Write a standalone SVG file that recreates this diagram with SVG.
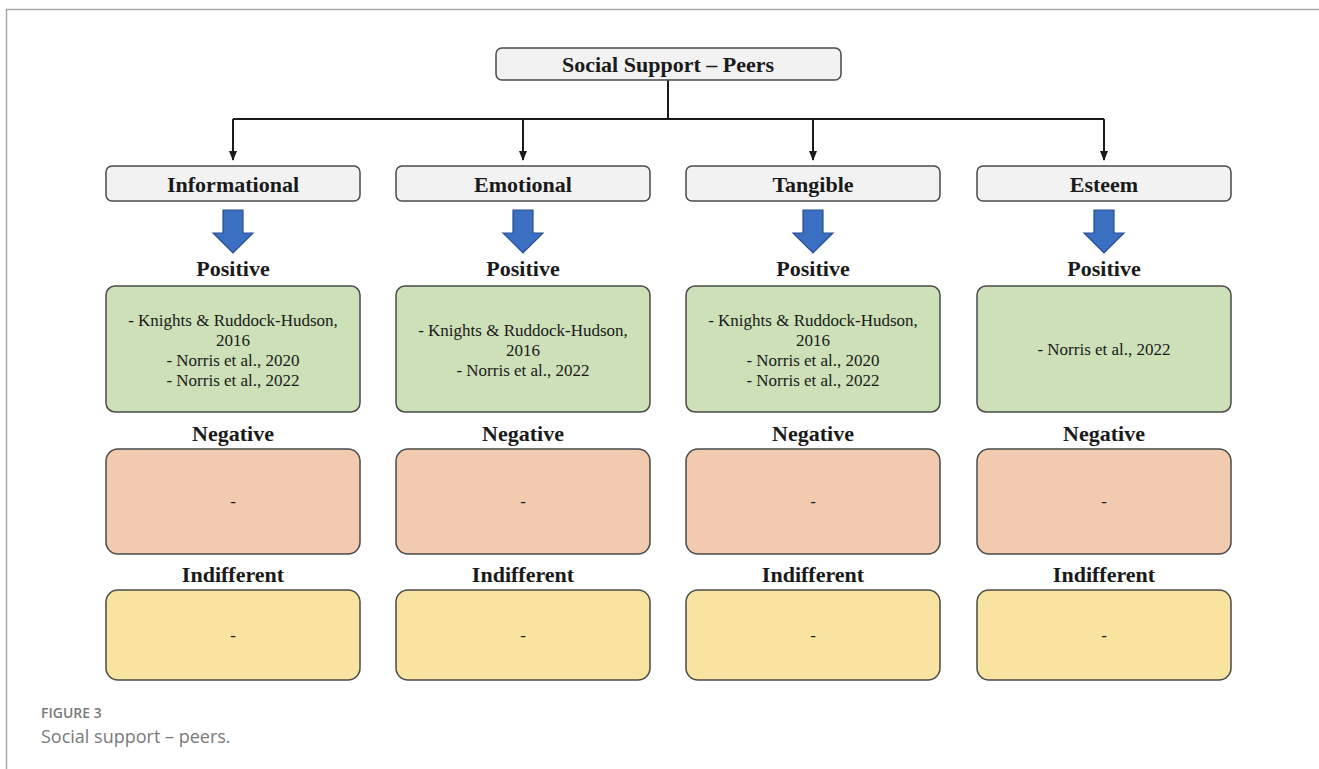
<svg xmlns="http://www.w3.org/2000/svg" width="1319" height="769" viewBox="0 0 1319 769">
  <defs>
    <style>
      .hdr { fill: #f2f2f2; stroke: #4a4a4a; stroke-width: 1.5; }
      .pos { fill: #cde0b8; stroke: #4a4a4a; stroke-width: 1.5; }
      .neg { fill: #f1cab0; stroke: #4a4a4a; stroke-width: 1.5; }
      .ind { fill: #f9e3a0; stroke: #4a4a4a; stroke-width: 1.5; }
      .bold { font-family: "Liberation Serif", "Times New Roman", serif; font-weight: bold; font-size: 22px; fill: #1a1a1a; text-anchor: middle; }
      .ref { font-family: "Liberation Serif", "Times New Roman", serif; font-size: 17px; fill: #1a1a1a; text-anchor: middle; }
      .conn { stroke: #1a1a1a; stroke-width: 2; fill: none; }
      .blue { fill: #3b6fc2; stroke: #2a4f8f; stroke-width: 1.2; }
      .cap1 { font-family: "Open Sans", "Liberation Sans", sans-serif; font-size: 14px; font-weight: 600; fill: #7a7a7a; }
      .cap2 { font-family: "Open Sans", "Liberation Sans", sans-serif; font-size: 18px; fill: #7a7a7a; }
    </style>
    <marker id="ah" markerWidth="10" markerHeight="8" refX="9" refY="4" orient="auto" markerUnits="userSpaceOnUse">
      <path d="M0,0 L10,4 L0,8 Z" fill="#1a1a1a"/>
    </marker>
    <path id="bigArrow" d="M-10,0 L10,0 L10,23 L20,23 L0,43 L-20,23 L-10,23 Z"/>
  </defs>

  <rect width="1319" height="769" fill="#ffffff"/>
  <!-- outer frame -->
  <path d="M6.5,769 L6.5,9.5 L1319,9.5" fill="none" stroke="#a8a8a8" stroke-width="1.5"/>

  <!-- connectors -->
  <g id="connectors">
    <path class="conn" d="M668,80 L668,119"/>
    <path class="conn" d="M233,119 L1104,119"/>
    <path class="conn" d="M233,119 L233,160" marker-end="url(#ah)"/>
    <path class="conn" d="M523,119 L523,160" marker-end="url(#ah)"/>
    <path class="conn" d="M813,119 L813,160" marker-end="url(#ah)"/>
    <path class="conn" d="M1104,119 L1104,160" marker-end="url(#ah)"/>
    <use href="#bigArrow" class="blue" x="233" y="210"/>
    <use href="#bigArrow" class="blue" x="523" y="210"/>
    <use href="#bigArrow" class="blue" x="813" y="210"/>
    <use href="#bigArrow" class="blue" x="1104" y="210"/>
  </g>

  <g id="root">
    <rect class="hdr" x="496" y="48" width="345" height="32" rx="6"/>
    <text class="bold" x="668" y="72">Social Support – Peers</text>
  </g>

  <!-- Informational -->
  <g id="informational">
    <rect class="hdr" x="106" y="166" width="254" height="35" rx="6"/>
    <text class="bold" x="233" y="192">Informational</text>
    <text class="bold" x="233" y="276">Positive</text>
    <rect class="pos" x="106" y="286" width="254" height="126" rx="9"/>
    <text class="ref" x="233" y="326">- Knights &amp; Ruddock-Hudson,</text>
    <text class="ref" x="233" y="346">2016</text>
    <text class="ref" x="233" y="366">- Norris et al., 2020</text>
    <text class="ref" x="233" y="386">- Norris et al., 2022</text>
    <text class="bold" x="233" y="441">Negative</text>
    <rect class="neg" x="106" y="449" width="254" height="105" rx="12"/>
    <text class="ref" x="233" y="507">-</text>
    <text class="bold" x="233" y="582">Indifferent</text>
    <rect class="ind" x="106" y="590" width="254" height="90" rx="12"/>
    <text class="ref" x="233" y="641">-</text>
  </g>

  <!-- Emotional -->
  <g id="emotional">
    <rect class="hdr" x="396" y="166" width="254" height="35" rx="6"/>
    <text class="bold" x="523" y="192">Emotional</text>
    <text class="bold" x="523" y="276">Positive</text>
    <rect class="pos" x="396" y="286" width="254" height="126" rx="9"/>
    <text class="ref" x="523" y="336">- Knights &amp; Ruddock-Hudson,</text>
    <text class="ref" x="523" y="356">2016</text>
    <text class="ref" x="523" y="376">- Norris et al., 2022</text>
    <text class="bold" x="523" y="441">Negative</text>
    <rect class="neg" x="396" y="449" width="254" height="105" rx="12"/>
    <text class="ref" x="523" y="507">-</text>
    <text class="bold" x="523" y="582">Indifferent</text>
    <rect class="ind" x="396" y="590" width="254" height="90" rx="12"/>
    <text class="ref" x="523" y="641">-</text>
  </g>

  <!-- Tangible -->
  <g id="tangible">
    <rect class="hdr" x="686" y="166" width="254" height="35" rx="6"/>
    <text class="bold" x="813" y="192">Tangible</text>
    <text class="bold" x="813" y="276">Positive</text>
    <rect class="pos" x="686" y="286" width="254" height="126" rx="9"/>
    <text class="ref" x="813" y="326">- Knights &amp; Ruddock-Hudson,</text>
    <text class="ref" x="813" y="346">2016</text>
    <text class="ref" x="813" y="366">- Norris et al., 2020</text>
    <text class="ref" x="813" y="386">- Norris et al., 2022</text>
    <text class="bold" x="813" y="441">Negative</text>
    <rect class="neg" x="686" y="449" width="254" height="105" rx="12"/>
    <text class="ref" x="813" y="507">-</text>
    <text class="bold" x="813" y="582">Indifferent</text>
    <rect class="ind" x="686" y="590" width="254" height="90" rx="12"/>
    <text class="ref" x="813" y="641">-</text>
  </g>

  <!-- Esteem -->
  <g id="esteem">
    <rect class="hdr" x="977" y="166" width="254" height="35" rx="6"/>
    <text class="bold" x="1104" y="192">Esteem</text>
    <text class="bold" x="1104" y="276">Positive</text>
    <rect class="pos" x="977" y="286" width="254" height="126" rx="9"/>
    <text class="ref" x="1104" y="355">- Norris et al., 2022</text>
    <text class="bold" x="1104" y="441">Negative</text>
    <rect class="neg" x="977" y="449" width="254" height="105" rx="12"/>
    <text class="ref" x="1104" y="507">-</text>
    <text class="bold" x="1104" y="582">Indifferent</text>
    <rect class="ind" x="977" y="590" width="254" height="90" rx="12"/>
    <text class="ref" x="1104" y="641">-</text>
  </g>

  <!-- caption -->
  <g id="caption">
    <text class="cap1" x="41" y="718">FIGURE 3</text>
    <text class="cap2" x="41" y="743">Social support – peers.</text>
  </g>
</svg>
